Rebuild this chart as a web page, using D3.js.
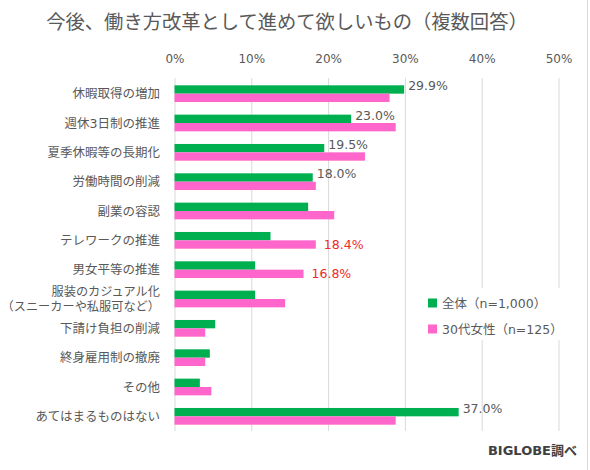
<!DOCTYPE html>
<html>
<head>
<meta charset="utf-8">
<script src="https://cdn.jsdelivr.net/npm/d3@7"></script>
<style>
  body { margin: 0; background: #fff; }
  svg text { font-family: "DejaVu Sans", "Noto Sans CJK JP", sans-serif; }
</style>
</head>
<body>
<svg id="chart" width="590" height="470"></svg>
<script>
// categories (top to bottom)
const categories = [
  "休暇取得の増加", "週休3日制の推進", "夏季休暇等の長期化", "労働時間の削減",
  "副業の容認", "テレワークの推進", "男女平等の推進",
  "服装のカジュアル化\n（スニーカーや私服可など）",
  "下請け負担の削減", "終身雇用制の撤廃", "その他", "あてはまるものはない"
];
// 全体（n=1,000）
const allValues = [29.9, 23.0, 19.5, 18.0, 17.4, 12.5, 10.5, 10.5, 5.3, 4.6, 3.3, 37.0];
// 30代女性（n=125）
const womenValues = [28.0, 28.8, 24.8, 18.4, 20.8, 18.4, 16.8, 14.4, 4.0, 4.0, 4.8, 28.8];
// which bars carry a value label
const allLabelled = [0, 1, 2, 3, 11];
const womenLabelled = [5, 6];
const tickValues = [0, 10, 20, 30, 40, 50];
const seriesNames = ["全体（n=1,000）", "30代女性（n=125）"];
const colors = ["#00b050", "#ff66cc"];

const svg = d3.select("#chart");

// frame line at the right edge
svg.append("line")
  .attr("x1", 587.5).attr("x2", 587.5)
  .attr("y1", 0).attr("y2", 470)
  .attr("stroke", "#d9d9d9");

// Title
svg.append("text")
  .attr("x", 287)
  .attr("y", 29)
  .attr("text-anchor", "middle")
  .style("font-size", "19.3px")
  .style("fill", "#595959")
  .text("今後、働き方改革として進めて欲しいもの（複数回答）");

// scales
const x = d3.scaleLinear().domain([0, 50]).range([174.5, 558.5]);
const y = d3.scaleBand()
  .domain(categories)
  .range([79, 431])
  .paddingInner(0.43)
  .paddingOuter(0.215);
const ySub = d3.scaleBand()
  .domain([0, 1])
  .range([0, y.bandwidth()]);

// gridlines
svg.append("g")
  .selectAll("line")
  .data(tickValues)
  .join("line")
  .attr("x1", d => x(d) + 0.5)
  .attr("x2", d => x(d) + 0.5)
  .attr("y1", 78)
  .attr("y2", 431)
  .attr("stroke", "#d9d9d9")
  .attr("stroke-width", 1);

// top axis labels
const xAxis = d3.axisTop(x)
  .tickValues(tickValues)
  .tickFormat(d => d + "%")
  .tickSize(0)
  .tickPadding(0);
const gx = svg.append("g")
  .attr("transform", "translate(0, 63)")
  .call(xAxis);
gx.select(".domain").remove();
gx.selectAll("text")
  .style("font-size", "12px")
  .style("fill", "#595959");

// category labels
const gy = svg.append("g");
categories.forEach(c => {
  const lines = c.split("\n");
  const cy = y(c) + y.bandwidth() / 2;
  const t = gy.append("text")
    .attr("text-anchor", "end")
    .style("font-size", lines.length > 1 ? "12.2px" : "12.5px")
    .style("fill", "#595959");
  lines.forEach((ln, i) => {
    t.append("tspan")
      .attr("x", 160)
      .attr("y", cy + 4.5 + (i - (lines.length - 1) / 2) * 15.5)
      .text(ln);
  });
});

// bars
const series = [allValues, womenValues];
series.forEach((vals, s) => {
  svg.append("g")
    .selectAll("rect")
    .data(vals)
    .join("rect")
    .attr("x", x(0))
    .attr("y", (d, i) => y(categories[i]) + ySub(s))
    .attr("width", d => x(d) - x(0))
    .attr("height", ySub.bandwidth())
    .attr("fill", colors[s]);
});

// value labels
svg.append("g")
  .selectAll("text")
  .data(allLabelled)
  .join("text")
  .attr("x", i => x(allValues[i]) + 4)
  .attr("y", i => y(categories[i]) + ySub(0) + ySub.bandwidth() / 2 + 1)
  .style("font-size", "12.5px")
  .style("fill", "#595959")
  .text(i => allValues[i].toFixed(1) + "%");

svg.append("g")
  .selectAll("text")
  .data(womenLabelled)
  .join("text")
  .attr("x", i => x(womenValues[i]) + 8)
  .attr("y", i => y(categories[i]) + ySub(1) + ySub.bandwidth() / 2 + 4.5)
  .style("font-size", "12.5px")
  .style("fill", "#ee2a2a")
  .text(i => womenValues[i].toFixed(1) + "%");

// legend
const legend = svg.append("g");
legend.append("rect")
  .attr("x", 424).attr("y", 288)
  .attr("width", 156).attr("height", 52)
  .attr("fill", "#fff");
seriesNames.forEach((name, i) => {
  const ly = 303 + i * 26;
  legend.append("rect")
    .attr("x", 428).attr("y", ly - 4.5)
    .attr("width", 9).attr("height", 9)
    .attr("fill", colors[i]);
  legend.append("text")
    .attr("x", 442).attr("y", ly + 4.5)
    .style("font-size", "12.5px")
    .style("fill", "#595959")
    .text(name);
});

// source note
svg.append("text")
  .attr("x", 577)
  .attr("y", 455)
  .attr("text-anchor", "end")
  .style("font-size", "13px")
  .style("font-weight", "bold")
  .style("fill", "#404040")
  .text("BIGLOBE調べ");
</script>
</body>
</html>
